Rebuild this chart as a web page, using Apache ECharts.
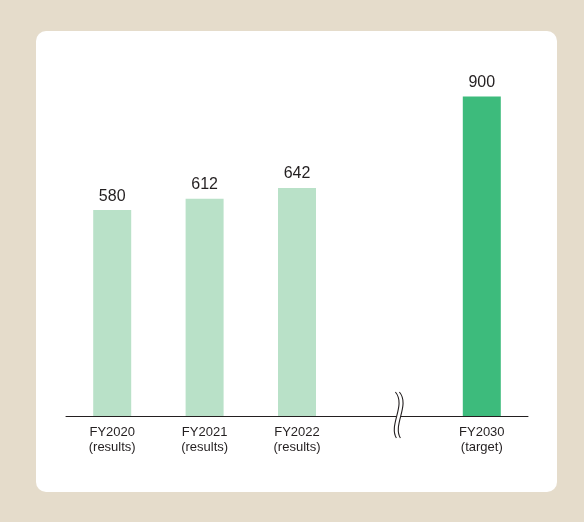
<!DOCTYPE html>
<html><head><meta charset="utf-8">
<script src="https://cdn.jsdelivr.net/npm/echarts@6/dist/echarts.min.js"></script>
<style>html,body{margin:0;padding:0;background:#e5dccb}#c{width:584px;height:522px}</style>
</head><body><div id="c"></div>
<script>
const categories = ['FY2020\n(results)', 'FY2021\n(results)', 'FY2022\n(results)', '', 'FY2030\n(target)'];
const values = [580, 612, 642, null, 900];
const barColors = ['#b9e1c8', '#b9e1c8', '#b9e1c8', '#b9e1c8', '#3dbb7c'];
const breakCategory = '';

const chart = echarts.init(document.getElementById('c'));
const textColor = '#231f20';
const fontFamily = '"Liberation Sans", Arial, Helvetica, sans-serif';

chart.setOption({
  backgroundColor: '#e5dccb',
  animation: false,
  grid: { left: 66, right: 56, top: 61, bottom: 106 },
  xAxis: {
    type: 'category',
    data: categories,
    axisLine: { lineStyle: { color: textColor, width: 1 } },
    axisTick: { show: false },
    axisLabel: { color: textColor, fontSize: 13, lineHeight: 15, margin: 9, fontFamily: fontFamily, interval: 0 }
  },
  yAxis: {
    type: 'value', min: 0, max: 1000, show: false
  },
  series: [{
    type: 'bar',
    barWidth: 38,
    data: values.map((v, i) => v == null ? '-' : { value: v, itemStyle: { color: barColors[i] } }),
    label: { show: true, position: 'top', distance: 6, fontSize: 16, color: textColor, fontFamily: fontFamily }
  }],
  graphic: [{
    type: 'rect', z: -10,
    shape: { x: 36, y: 31, width: 521, height: 461, r: 10 },
    style: { fill: '#ffffff' }
  }]
});

// axis break symbol placed at the empty category slot
const bx = chart.convertToPixel({ xAxisIndex: 0 }, breakCategory) + 8;
const by = chart.convertToPixel({ yAxisIndex: 0 }, 0);
function wave(dx) {
  return {
    type: 'bezierCurve', z: 100,
    shape: { x1: bx - 2 + dx, y1: by - 24, cpx1: bx + 9 + dx, cpy1: by - 11, cpx2: bx - 9 + dx, cpy2: by + 9, x2: bx - 1 + dx, y2: by + 22 },
    style: { stroke: textColor, lineWidth: 1.1, fill: null }
  };
}
chart.setOption({
  graphic: [
    { type: 'rect', z: -10, shape: { x: 36, y: 31, width: 521, height: 461, r: 10 }, style: { fill: '#ffffff' } },
    { type: 'rect', z: 99, shape: { x: bx - 1, y: by - 2, width: 4, height: 4 }, style: { fill: '#ffffff' } },
    wave(0), wave(4)
  ]
});
</script></body></html>
